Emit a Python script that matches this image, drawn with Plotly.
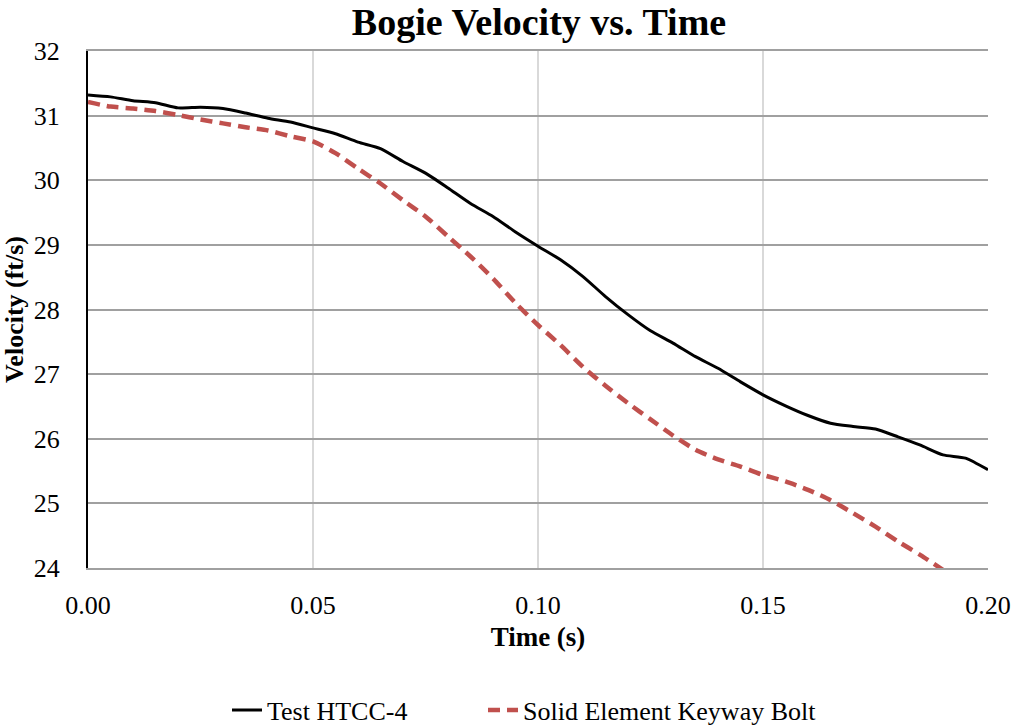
import plotly.graph_objects as go

time_s = [0.000, 0.005, 0.010, 0.015, 0.020, 0.025, 0.030, 0.035, 0.040, 0.045,
          0.050, 0.055, 0.060, 0.065, 0.070, 0.075, 0.080, 0.085, 0.090, 0.095,
          0.100, 0.105, 0.110, 0.115, 0.120, 0.125, 0.130, 0.135, 0.140, 0.145,
          0.150, 0.155, 0.160, 0.165, 0.170, 0.175, 0.180, 0.185, 0.190, 0.195, 0.200]

test_htcc4 = [31.32, 31.29, 31.23, 31.20, 31.12, 31.13, 31.11, 31.04, 30.96, 30.90,
              30.81, 30.72, 30.59, 30.49, 30.29, 30.11, 29.88, 29.64, 29.44, 29.20,
              28.98, 28.77, 28.51, 28.20, 27.92, 27.67, 27.48, 27.27, 27.09, 26.88,
              26.68, 26.51, 26.36, 26.24, 26.19, 26.15, 26.03, 25.90, 25.75, 25.70, 25.52]

time_sim = [0.000, 0.005, 0.010, 0.015, 0.020, 0.025, 0.030, 0.035, 0.040, 0.045,
            0.050, 0.055, 0.060, 0.065, 0.070, 0.075, 0.080, 0.085, 0.090, 0.095,
            0.100, 0.105, 0.110, 0.115, 0.120, 0.125, 0.130, 0.135, 0.140, 0.145,
            0.150, 0.155, 0.160, 0.165, 0.170, 0.175, 0.180, 0.185, 0.190]

solid_keyway = [31.21, 31.14, 31.11, 31.07, 31.01, 30.94, 30.88, 30.82, 30.77, 30.68,
                30.60, 30.42, 30.18, 29.95, 29.69, 29.44, 29.13, 28.82, 28.48, 28.10,
                27.76, 27.45, 27.11, 26.82, 26.55, 26.30, 26.05, 25.83, 25.68, 25.57,
                25.44, 25.34, 25.21, 25.05, 24.85, 24.64, 24.41, 24.20, 23.97]

x_ticks = [0.00, 0.05, 0.10, 0.15, 0.20]
y_ticks = [24, 25, 26, 27, 28, 29, 30, 31, 32]

FONT = "Liberation Serif"
W, H = 1013, 725

fig = go.Figure()
fig.add_trace(go.Scatter(
    x=time_s, y=test_htcc4, mode="lines", name="Test HTCC-4",
    line=dict(color="#000000", width=3, shape="spline", smoothing=0.6),
    legend="legend",
))
fig.add_trace(go.Scatter(
    x=time_sim, y=solid_keyway, mode="lines", name="Solid Element Keyway Bolt",
    line=dict(color="#C0504D", width=4.5, dash="12px,7px", shape="spline", smoothing=0.6),
    legend="legend2",
))

legend_common = dict(orientation="h", xref="container", yref="container",
                     xanchor="left", y=1 - 710 / H, yanchor="middle",
                     font=dict(family=FONT, size=26), bgcolor="rgba(0,0,0,0)")

fig.update_layout(
    width=W, height=H,
    paper_bgcolor="white", plot_bgcolor="white",
    margin=dict(l=88, r=25, t=51, b=157, autoexpand=False),
    font=dict(family=FONT, size=26, color="#000000"),
    title=dict(text="<b>Bogie Velocity vs. Time</b>", x=539 / W, xanchor="center",
               xref="container", yref="container",
               y=1 - 22 / H, yanchor="middle", font=dict(family=FONT, size=38, color="#000000")),
    legend=dict(x=227 / W, **legend_common),
    legend2=dict(x=483 / W, **legend_common),
    showlegend=True,
)

fig.update_xaxes(
    range=[0, 0.2], tickvals=x_ticks, ticktext=[f"{v:.2f}" for v in x_ticks],
    showgrid=True, gridcolor="#D9D9D9", gridwidth=1.5,
    showline=True, linecolor="#A0A0A0", linewidth=2, mirror=True,
    zeroline=False, ticks="outside", ticklen=13, tickcolor="rgba(0,0,0,0)",
    title=dict(text="<b>Time (s)</b>", font=dict(family=FONT, size=27), standoff=8),
    tickfont=dict(family=FONT, size=26), automargin=False,
    ticklabeloverflow="allow",
)
fig.update_yaxes(
    range=[24, 32], tickvals=y_ticks,
    showgrid=True, gridcolor="#A0A0A0", gridwidth=2,
    showline=True, linecolor="#000000", linewidth=2,
    zeroline=False, ticks="outside", ticklen=21, tickcolor="rgba(0,0,0,0)",
    title=dict(text="<b>Velocity (ft/s)</b>", font=dict(family=FONT, size=26), standoff=10),
    tickfont=dict(family=FONT, size=26), automargin=False,
)

fig.write_html("out.html", config={"displayModeBar": False},
               post_script="document.body.style.margin='0px';document.body.style.overflow='hidden';")
